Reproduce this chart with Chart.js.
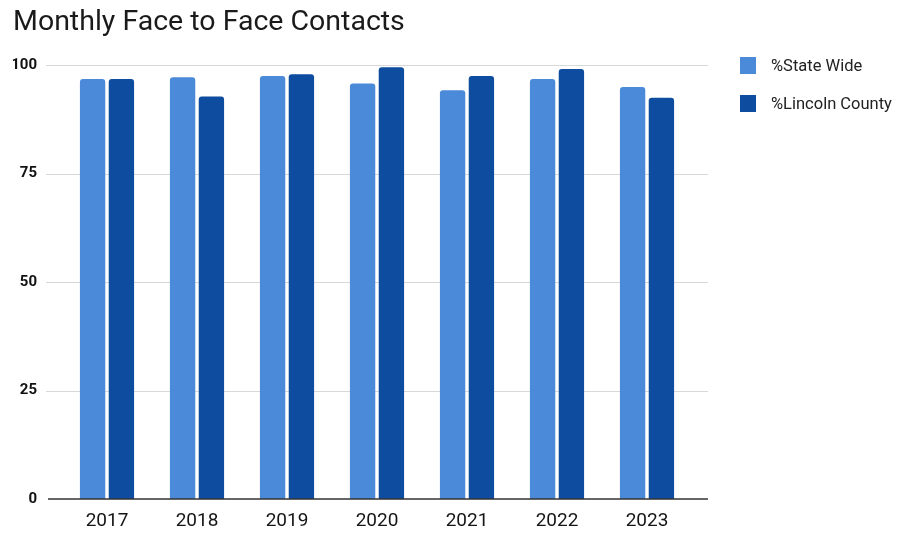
<!DOCTYPE html>
<html>
<head>
<meta charset="utf-8">
<title>Monthly Face to Face Contacts</title>
<script src="https://cdn.jsdelivr.net/npm/chart.js@4/dist/chart.umd.min.js"></script>
<style>
  body { margin: 0; background: #fff; }
  #wrap { position: relative; width: 901px; height: 536px; }
  #legend { position: absolute; left: 740px; top: 57px; font-family: Roboto, sans-serif; font-size: 16.5px; color: #222; }
  #legend .item { display: flex; align-items: center; height: 17px; margin-bottom: 21px; }
  #legend .sw { width: 16px; height: 17px; margin-right: 15px; }
</style>
</head>
<body>
<div id="wrap">
  <canvas id="contactsChart" width="901" height="536"></canvas>
  <div id="legend"></div>
</div>
<script>
// dados do gráfico
const years = ['2017', '2018', '2019', '2020', '2021', '2022', '2023'];
const stateWide = [96.8, 97.2, 97.5, 95.8, 94.2, 96.8, 95.0];
const lincolnCounty = [96.8, 92.8, 97.9, 99.5, 97.5, 99.1, 92.5];
const yTicks = [0, 25, 50, 75, 100];

const stateColor = '#4a8ad9';
const lincolnColor = '#0d4c9e';

// linhas de grade um pouco mais largas que a área do gráfico
const gridPlugin = {
    id: 'wideGrid',
    beforeDatasetsDraw(chart) {
        const { ctx, chartArea, scales } = chart;
        ctx.save();
        ctx.strokeStyle = '#d8d8d8';
        ctx.lineWidth = 1;
        yTicks.forEach(v => {
            if (v === 0) return;
            const y = Math.round(scales.y.getPixelForValue(v)) + 0.5;
            ctx.beginPath();
            ctx.moveTo(chartArea.left - 16, y);
            ctx.lineTo(chartArea.right + 16, y);
            ctx.stroke();
        });
        ctx.restore();
    },
    afterDatasetsDraw(chart) {
        const { ctx, chartArea, scales } = chart;
        const y = scales.y.getPixelForValue(0);
        ctx.save();
        ctx.strokeStyle = '#333';
        ctx.lineWidth = 1.5;
        ctx.beginPath();
        ctx.moveTo(chartArea.left - 14, y);
        ctx.lineTo(chartArea.right + 16, y);
        ctx.stroke();
        ctx.restore();
    }
};

const chart = new Chart(document.getElementById('contactsChart'), {
    type: 'bar',
    data: {
        labels: years,
        datasets: [
            {
                label: '%State Wide',
                data: stateWide,
                backgroundColor: stateColor,
                borderRadius: 3
            },
            {
                label: '%Lincoln County',
                data: lincolnCounty,
                backgroundColor: lincolnColor,
                borderRadius: 3
            }
        ]
    },
    options: {
        responsive: false,
        animation: false,
        datasets: {
            bar: { categoryPercentage: 0.64, barPercentage: 0.88 }
        },
        layout: {
            padding: { left: 13, right: 209, top: 0, bottom: 4 }
        },
        plugins: {
            legend: { display: false },
            tooltip: { enabled: false },
            title: {
                display: true,
                text: 'Monthly Face to Face Contacts',
                align: 'start',
                color: '#1a1a1a',
                font: { family: 'Roboto', size: 28.5, weight: 'normal' },
                padding: { top: 6, bottom: 25 }
            }
        },
        scales: {
            x: {
                afterFit(scale) {
                    scale.height = 33;
                },
                grid: { display: false, drawTicks: false },
                border: { display: false },
                ticks: {
                    color: '#151515',
                    padding: 11,
                    font: { family: 'Roboto', size: 19 }
                }
            },
            y: {
                min: 0,
                max: 100,
                afterBuildTicks(scale) {
                    scale.ticks = yTicks.map(v => ({ value: v }));
                },
                afterFit(scale) {
                    scale.width = 49;
                },
                grid: { display: false, drawTicks: false },
                border: { display: false },
                ticks: {
                    color: '#111',
                    padding: 25,
                    font: { family: 'Roboto', size: 15, weight: 'bold' }
                }
            }
        }
    },
    plugins: [gridPlugin]
});

// legenda à direita
const legendEl = document.getElementById('legend');
chart.data.datasets.forEach(ds => {
    const item = document.createElement('div');
    item.className = 'item';
    const sw = document.createElement('span');
    sw.className = 'sw';
    sw.style.background = ds.backgroundColor;
    const txt = document.createElement('span');
    txt.textContent = ds.label;
    item.appendChild(sw);
    item.appendChild(txt);
    legendEl.appendChild(item);
});
</script>
</body>
</html>
